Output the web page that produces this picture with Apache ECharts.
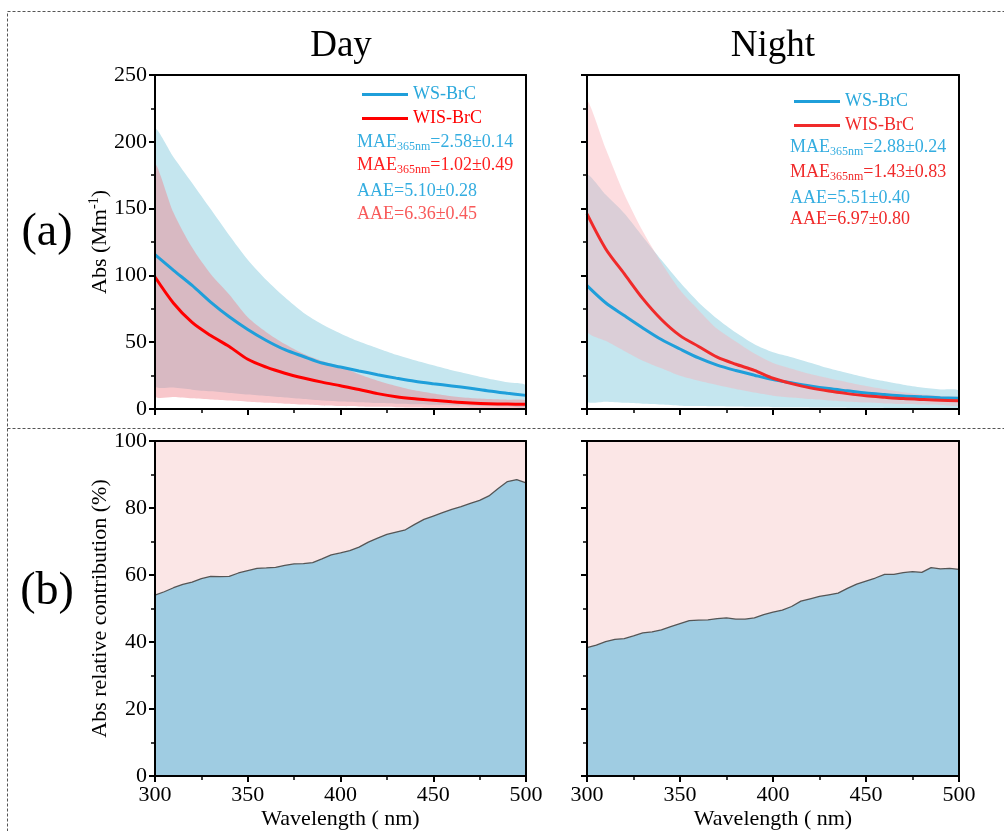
<!DOCTYPE html>
<html>
<head>
<meta charset="utf-8">
<script src="https://cdn.jsdelivr.net/npm/echarts/dist/echarts.min.js"></script>
<style>html,body{margin:0;padding:0;background:#fff}#c{width:1004px;height:831px}</style>
</head>
<body>
<div id="c"></div>
<script>
// ---------- data ----------
const wl = [300,310,320,330,340,350,360,370,380,390,400,410,420,430,440,450,460,470,480,490,500];

const dayWsMean  = [115.5,103.8,92.5,80,69,59.5,51.3,44.4,39.3,34.4,31.4,28.5,25.7,23.1,20.7,18.9,17.3,15.5,13.5,11.8,10.2];
const dayWsUpper = [209,188.5,169.2,149.7,130.1,111.8,96.6,83.6,72.1,63.5,56.6,50.5,45.5,40.6,36.5,32.7,29,25.9,22.7,20,17.6];
const dayWsLower = [17.6,16,14.5,13.2,12,10.8,9.7,8.6,7.5,6.4,5.6,5,4.4,3.9,3.5,3.1,2.8,2.5,2.3,2.1,2];
const dayWisMean  = [98.8,79.2,64.8,55,46.8,37.2,31.3,26.8,23.2,20.1,17.4,14.6,11.5,9.1,7.6,6.5,5.4,4.5,3.9,3.7,3.5];
const dayWisUpper = [182.5,146.9,120.8,101,85.7,68.6,57.5,48.6,41.3,36,32,26,21.2,17.3,14,11.6,9.6,8.3,7.5,7,6.5];
const dayWisLower = [10,9,8,7.1,6.3,5.5,4.7,4,3.3,2.6,2.2,1.9,1.6,1.4,1.2,1.0,0.9,0.8,0.7,0.6,0.5];

const nightWsMean  = [92.3,79.5,70,60.7,52,44.9,38.2,32.8,28.8,25.3,22,19.6,17.3,15.3,13.6,11.9,10.8,9.8,9.1,8.5,8];
const nightWsUpper = [174.6,160.5,146.5,129,111.5,94.8,79.8,67.6,57.2,48.5,42.5,38.8,34.7,30.5,26.9,23.5,20.7,18.2,16.1,14.6,13.7];
const nightWsLower = [6.2,5.5,4.7,4,3.4,2.5,2.2,2,1.8,1.6,1.4,1.3,1.2,1.1,1,0.9,0.8,0.7,0.7,0.6,0.6];
const nightWisMean  = [146,120,101.3,82.6,67,54.9,46.8,38.8,33.5,28.9,23,19,15.8,13.4,11.5,9.9,8.8,7.8,7.1,6.5,6.2];
const nightWisUpper = [229.5,195,161,133,109.5,89,74,60,50.5,41.5,34.5,30.2,26.2,23,20,17.2,14.8,12.6,11,9.8,8.7];
const nightWisLower = [58.6,51,43.5,36.2,30.5,24.9,21.2,18,15,12.3,10,8.6,7.4,6.4,5.5,4.8,4.2,3.7,3.3,3,2.7];

const wl5 = [300,305,310,315,320,325,330,335,340,345,350,355,360,365,370,375,380,385,390,395,400,405,410,415,420,425,430,435,440,445,450,455,460,465,470,475,480,485,490,495,500];
const dayWsShare   = [54.0,55.0,56.2,57.2,57.9,58.9,59.6,59.5,59.6,60.6,61.3,62.0,62.1,62.3,62.9,63.3,63.4,63.7,64.8,66.0,66.6,67.3,68.3,69.8,71.0,72.1,72.8,73.5,75.1,76.6,77.6,78.6,79.6,80.4,81.4,82.3,83.6,85.8,87.9,88.5,87.5];
const nightWsShare = [38.3,39.1,40.1,40.8,41.0,41.8,42.7,43.0,43.6,44.6,45.5,46.4,46.5,46.6,47.0,47.2,46.8,46.8,47.2,48.2,48.9,49.5,50.6,52.2,52.9,53.6,54.1,54.6,56.0,57.3,58.2,59.1,60.2,60.2,60.7,61.0,60.8,62.2,61.8,62.0,61.7];

const absTicks = [0,50,100,150,200,250];
const pctTicks = [0,20,40,60,80,100];
const wlTicks = [300,350,400,450,500];

// ---------- helpers ----------
const FONT = '"Liberation Serif","Times New Roman",serif';
const pairs = (xs, ys) => xs.map((x, i) => [x, ys[i]]);

const grids = [
  {left:155, top:75, width:371, height:334},
  {left:587, top:75, width:372, height:334},
  {left:155, top:441, width:371, height:335},
  {left:587, top:441, width:372, height:335}
];

const xAxes = [], yAxes = [];
grids.forEach((g, i) => {
  const bottomRow = i >= 2;
  xAxes.push({
    type:'value', gridIndex:i, position:'bottom', min:wlTicks[0], max:wlTicks[wlTicks.length-1], interval:50,
    axisLine:{show:true, onZero:false, lineStyle:{color:'#000', width:2}},
    axisTick:{show:true, inside:false, length:6, lineStyle:{color:'#000', width:2}},
    minorTick:{show:true, splitNumber:2, length:4, lineStyle:{color:'#000', width:1.5}},
    splitLine:{show:false},
    axisLabel:{show:bottomRow, fontFamily:FONT, fontSize:22, color:'#000', margin:8},
    name: bottomRow ? 'Wavelength ( nm)' : '', nameLocation:'middle', nameGap:32,
    nameTextStyle:{fontFamily:FONT, fontSize:22, color:'#000'},
    z:10
  });
  xAxes.push({
    type:'value', gridIndex:i, position:'top', min:300, max:500,
    axisLine:{show:true, onZero:false, lineStyle:{color:'#000', width:2}},
    axisTick:{show:false}, axisLabel:{show:false}, splitLine:{show:false}, z:10
  });
  const top = i < 2;
  const leftCol = i % 2 === 0;
  yAxes.push({
    type:'value', gridIndex:i, position:'left', min:0,
    max: top ? absTicks[absTicks.length-1] : pctTicks[pctTicks.length-1],
    interval: top ? 50 : 20,
    axisLine:{show:true, onZero:false, lineStyle:{color:'#000', width:2}},
    axisTick:{show:true, inside:false, length:6, lineStyle:{color:'#000', width:2}},
    minorTick:{show:true, splitNumber:2, length:4, lineStyle:{color:'#000', width:1.5}},
    splitLine:{show:false},
    axisLabel:{show:leftCol, fontFamily:FONT, fontSize:22, color:'#000', margin:8},
    name: leftCol ? (top ? 'Abs (Mm{sup|-1})' : 'Abs relative contribution (%)') : '',
    nameLocation:'middle', nameGap:42, nameRotate:90, nameMoveOverlap:false,
    nameTextStyle:{fontFamily:FONT, fontSize:22, color:'#000', lineHeight:26,
      rich:{sup:{fontFamily:FONT, fontSize:14, color:'#000', lineHeight:14, verticalAlign:'top'}}},
    z:10
  });
  yAxes.push({
    type:'value', gridIndex:i, position:'right', min:0, max: top ? 250 : 100,
    axisLine:{show:true, onZero:false, lineStyle:{color:'#000', width:2}},
    axisTick:{show:false}, axisLabel:{show:false}, splitLine:{show:false}, z:10
  });
});

// shaded band between lower and upper, drawn as one polygon through the axis scales
function band(g, lower, upper, color) {
  return {
    type:'custom', xAxisIndex:2*g, yAxisIndex:2*g, silent:true, z:1, clip:true,
    data: wl.map((x, i) => [x, lower[i], upper[i]]),
    encode:{x:0, y:[1, 2]},
    renderItem(params, api) {
      if (params.dataIndex !== 0) return null;
      const pts = [];
      for (let i = 0; i < wl.length; i++) pts.push(api.coord([wl[i], upper[i]]));
      for (let i = wl.length - 1; i >= 0; i--) pts.push(api.coord([wl[i], lower[i]]));
      return {type:'polygon', shape:{points:pts, smooth:0.25}, style:{fill:color}};
    }
  };
}
function meanLine(g, name, ys, color) {
  return {type:'line', name, xAxisIndex:2*g, yAxisIndex:2*g, data:pairs(wl, ys), symbol:'none', smooth:0.3,
          lineStyle:{color, width:3}, itemStyle:{color}, z:3, emphasis:{disabled:true}};
}
function share(g, ys) {
  return [
    {type:'line', name:'WIS share '+g, xAxisIndex:2*g, yAxisIndex:2*g, data:pairs(wl5, ys),
     symbol:'none', lineStyle:{width:0, opacity:0}, areaStyle:{color:'#fbe6e6', opacity:1, origin:'end'}, z:2, emphasis:{disabled:true}},
    {type:'line', name:'WS share '+g, xAxisIndex:2*g, yAxisIndex:2*g, data:pairs(wl5, ys),
     symbol:'none', lineStyle:{color:'#555', width:1.3}, areaStyle:{color:'#9fcce2', opacity:1, origin:'start'}, z:3, emphasis:{disabled:true}}
  ];
}

const BLUE = '#1f9fda', RED_D = '#ff0000', RED_N = '#f02a2a';
const series = [
  band(0, dayWsLower, dayWsUpper, '#c5e6ef'),
  band(0, dayWisLower, dayWisUpper, 'rgba(240,130,140,0.45)'),
  meanLine(0, 'WS-BrC', dayWsMean, BLUE),
  meanLine(0, 'WIS-BrC', dayWisMean, RED_D),
  band(1, nightWsLower, nightWsUpper, '#c5e6ef'),
  band(1, nightWisLower, nightWisUpper, 'rgba(250,175,180,0.42)'),
  meanLine(1, 'WS-BrC', nightWsMean, BLUE),
  meanLine(1, 'WIS-BrC', nightWisMean, RED_N),
  ...share(2, dayWsShare),
  ...share(3, nightWsShare)
];

function legendAt(left, top, red) {
  return {left, top, orient:'vertical', icon:'rect', itemWidth:46, itemHeight:3, itemGap:5, selectedMode:false,
    textStyle:{fontFamily:FONT, fontSize:18, lineHeight:19},
    data:[
      {name:'WS-BrC', itemStyle:{color:BLUE}, textStyle:{color:'#2aa8dc'}},
      {name:'WIS-BrC', itemStyle:{color:red}, textStyle:{color:red}}
    ]};
}

function note(x, y, parts, color) {
  let text;
  if (parts.length === 3) text = '{m|' + parts[0] + '}{s|' + parts[1] + '}{m|' + parts[2] + '}';
  else text = '{m|' + parts[0] + '}';
  return {type:'text', x, y: y + 2, silent:true, z:20,
    style:{text, verticalAlign:'middle', align:'left',
      rich:{
        m:{fontFamily:FONT, fontSize:18, lineHeight:18, verticalAlign:'top', fill:color},
        s:{fontFamily:FONT, fontSize:12, lineHeight:14, verticalAlign:'top', padding:[8,0,0,0], fill:color}
      }}};
}
function label(x, y, text, size) {
  return {type:'text', x, y, silent:true, z:20,
    style:{text, font: size + 'px ' + FONT, fill:'#000', align:'center', verticalAlign:'middle'}};
}

const graphic = [
  {type:'rect', silent:true, z:-10, shape:{x:7.5, y:11.5, width:1030, height:850},
   style:{fill:'none', stroke:'#555', lineWidth:1, lineDash:[3,2]}},
  {type:'line', silent:true, z:-10, shape:{x1:7.5, y1:428.5, x2:1004, y2:428.5},
   style:{stroke:'#555', lineWidth:1, lineDash:[3,2]}},
  label(341, 46, 'Day', 37),
  label(773, 46, 'Night', 37),
  label(47, 233, '(a)', 46),
  label(47, 592, '(b)', 46),
  note(357, 140, ['MAE', '365nm', '=2.58±0.14'], '#34ade0'),
  note(357, 163, ['MAE', '365nm', '=1.02±0.49'], '#ff2020'),
  note(357, 189, ['AAE=5.10±0.28'], '#34ade0'),
  note(357, 212, ['AAE=6.36±0.45'], '#f85a5a'),
  note(790, 145, ['MAE', '365nm', '=2.88±0.24'], '#34ade0'),
  note(790, 170, ['MAE', '365nm', '=1.43±0.83'], '#f02a2a'),
  note(790, 196, ['AAE=5.51±0.40'], '#34ade0'),
  note(790, 217, ['AAE=6.97±0.80'], '#f02a2a')
];

const chart = echarts.init(document.getElementById('c'), null, {renderer:'canvas'});
chart.setOption({
  backgroundColor:'#fff',
  animation:false,
  grid: grids.map(g => Object.assign({containLabel:false, show:false}, g)),
  xAxis: xAxes,
  yAxis: yAxes,
  legend: [legendAt(357, 80, RED_D), legendAt(789, 87, RED_N)],
  series,
  graphic
});
</script>
</body>
</html>
